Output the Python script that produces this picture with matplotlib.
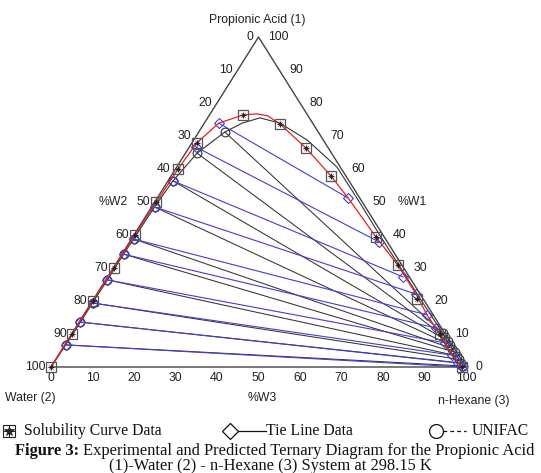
import matplotlib
matplotlib.use("Agg")
import matplotlib.pyplot as plt

# ---------------- data (mass fractions: x1 acid, x3 hexane) ----------------
# Solubility curve data (experimental)
sol_x1 = [0.0, 0.1, 0.2, 0.3, 0.4, 0.5, 0.6, 0.68, 0.764, 0.736, 0.664, 0.579,
          0.394, 0.309, 0.206, 0.100, 0.0]
sol_x3 = [0.0, 0.0, 0.0, 0.001, 0.002, 0.004, 0.006, 0.012, 0.081, 0.184, 0.282,
          0.385, 0.586, 0.681, 0.779, 0.887, 0.99]

# Experimental tie lines: water-rich phase (left) and hexane-rich phase (right)
tie_left_x1 = [0.067, 0.136, 0.194, 0.264, 0.342, 0.388, 0.485, 0.564, 0.667, 0.739]
tie_left_x3 = [0.002, 0.003, 0.003, 0.004, 0.004, 0.005, 0.007, 0.012, 0.015, 0.035]
tie_right_x1 = [0.0, 0.012, 0.036, 0.073, 0.118, 0.158, 0.221, 0.273, 0.379, 0.512]
tie_right_x3 = [0.99, 0.975, 0.948, 0.913, 0.869, 0.827, 0.769, 0.712, 0.601, 0.460]

# UNIFAC predicted tie lines
uni_left_x1 = [0.067, 0.136, 0.194, 0.264, 0.342, 0.388, 0.485, 0.564, 0.648, 0.712]
uni_left_x3 = [0.002, 0.003, 0.003, 0.004, 0.004, 0.005, 0.007, 0.012, 0.028, 0.063]
uni_right_x1 = [0.003, 0.012, 0.023, 0.034, 0.045, 0.056, 0.067, 0.079, 0.091, 0.103]
uni_right_x3 = [0.992, 0.983, 0.972, 0.961, 0.950, 0.939, 0.928, 0.916, 0.904, 0.892]

# Fitted experimental binodal (red curve)
fit_x1 = [0.0, 0.1, 0.2, 0.3, 0.4, 0.5, 0.6, 0.68, 0.739, 0.764, 0.767, 0.761,
          0.736, 0.664, 0.579, 0.512, 0.394, 0.309, 0.221, 0.158, 0.100, 0.036, 0.0]
fit_x3 = [0.0, 0.0, 0.0, 0.001, 0.002, 0.004, 0.006, 0.012, 0.035, 0.081, 0.113, 0.142,
          0.184, 0.282, 0.385, 0.460, 0.586, 0.681, 0.769, 0.827, 0.887, 0.948, 0.99]

# UNIFAC binodal (black curve)
unib_x1 = [0.0, 0.067, 0.136, 0.194, 0.264, 0.342, 0.388, 0.485, 0.564, 0.648, 0.712,
           0.739, 0.755, 0.739, 0.688, 0.606, 0.506, 0.394, 0.203, 0.103, 0.056, 0.003]
unib_x3 = [0.0, 0.002, 0.003, 0.003, 0.004, 0.004, 0.005, 0.007, 0.012, 0.028, 0.063,
           0.091, 0.126, 0.182, 0.273, 0.386, 0.487, 0.598, 0.790, 0.892, 0.939, 0.992]

ticks = [0, 10, 20, 30, 40, 50, 60, 70, 80, 90, 100]


def proj(x1, x3):
    return [b + a / 2.0 for a, b in zip(x1, x3)], list(x1)


W, H = 541, 473
fig = plt.figure(figsize=(W / 100, H / 100), dpi=100)
fig.patch.set_facecolor("white")
ax = fig.add_axes([51 / W, (H - 367) / H, 415 / W, 330 / H])
ax.set_xlim(0, 1)
ax.set_ylim(0, 1)
ax.axis("off")

sans = ["Liberation Sans", "DejaVu Sans"]
serif = ["Liberation Serif", "DejaVu Serif"]
fs = 8.8
tcol = "#222222"

# triangle
ax.plot([0, 1, 0.5, 0], [0, 0, 1, 0], color="#444444", lw=1.0, clip_on=False, zorder=2)

# UNIFAC binodal + tie lines
bx, by = proj(unib_x1, unib_x3)
ax.plot(bx, by, color="#333333", lw=0.8, clip_on=False, zorder=3)
lx, ly = proj(uni_left_x1, uni_left_x3)
rx, ry = proj(uni_right_x1, uni_right_x3)
for i in range(len(lx)):
    ax.plot([lx[i], rx[i]], [ly[i], ry[i]], color="#333333", lw=0.75, clip_on=False, zorder=3)
ax.plot(lx + rx, ly + ry, ls="none", marker="o", ms=6.3, mfc="none", mec="#333333",
        mew=0.8, clip_on=False, zorder=4)

# experimental tie lines
tlx, tly = proj(tie_left_x1, tie_left_x3)
trx, try_ = proj(tie_right_x1, tie_right_x3)
blue = "#3f3fd6"
for i in range(len(tlx)):
    ax.plot([tlx[i], trx[i]], [tly[i], try_[i]], color=blue, lw=0.8, clip_on=False, zorder=5)
ax.plot(tlx + trx, tly + try_, ls="none", marker="D", ms=5.2, mfc="none", mec=blue,
        mew=0.8, clip_on=False, zorder=6)

# fitted binodal (red)
fx, fy = proj(fit_x1, fit_x3)
ax.plot(fx, fy, color="#e8201c", lw=0.9, clip_on=False, zorder=7)

# solubility data
sx, sy = proj(sol_x1, sol_x3)
ax.plot(sx, sy, ls="none", marker="s", ms=6.5, mfc="none", mec="#555555", mew=0.9,
        clip_on=False, zorder=8)
ax.plot(sx, sy, ls="none", marker="+", ms=5, mec="#222222", mew=0.7, clip_on=False, zorder=8)
ax.plot(sx, sy, ls="none", marker="x", ms=3.5, mec="#222222", mew=0.6, clip_on=False, zorder=8)

# tick labels
for t in ticks:
    f = t / 100.0
    # bottom (%W3)
    ax.annotate(str(t), (f, 0), xytext=(0, -11), textcoords="offset pixels",
                ha="center", va="center", fontsize=fs, family=sans, color=tcol)
    # left (%W2): water fraction t -> acid 1 - f
    a = 1 - f
    ax.annotate(str(t), (a / 2, a), xytext=(-5, 0), textcoords="offset pixels",
                ha="right", va="center", fontsize=fs, family=sans, color=tcol)
    # right (%W1): acid fraction t
    ax.annotate(str(t), (1 - f / 2, f), xytext=(10, 0), textcoords="offset pixels",
                ha="left", va="center", fontsize=fs, family=sans, color=tcol)


def ftext(x, y, s, **kw):
    return fig.text(x / W, 1 - y / H, s, **kw)


ftext(257, 20, "Propionic Acid (1)", ha="center", va="center", fontsize=fs, family=sans, color=tcol)
ftext(113, 202, "%W2", ha="center", va="center", fontsize=fs, family=sans, color=tcol)
ftext(412, 202, "%W1", ha="center", va="center", fontsize=fs, family=sans, color=tcol)
ftext(262, 398, "%W3", ha="center", va="center", fontsize=fs, family=sans, color=tcol)
ftext(5, 398, "Water (2)", ha="left", va="center", fontsize=fs, family=sans, color=tcol)
ftext(510, 401, "n-Hexane (3)", ha="right", va="center", fontsize=fs, family=sans, color=tcol)

# legend row
lg = fig.add_axes([0, 0, 1, 1])
lg.set_xlim(0, W)
lg.set_ylim(H, 0)
lg.axis("off")
ly0 = 431
lfs = 11.3
lg.plot([9], [ly0], marker="s", ms=9, mfc="none", mec="#222222", mew=0.8, ls="none")
lg.plot([9], [ly0], marker="*", ms=7, mfc="#222222", mec="#222222", mew=0.5, ls="none")
lg.plot([9], [ly0], marker="+", ms=9, mec="#222222", mew=0.7, ls="none")
lg.text(24, ly0, "Solubility Curve Data", ha="left", va="center", fontsize=lfs,
        family=serif, color="#111111")
lg.plot([230, 266], [ly0, ly0], color="#111111", lw=0.9)
lg.plot([230], [ly0], marker="D", ms=8.5, mfc="white", mec="#111111", mew=0.9)
lg.text(266, ly0, "Tie Line Data", ha="left", va="center", fontsize=lfs,
        family=serif, color="#111111")
lg.plot([443, 466], [ly0, ly0], color="#111111", lw=0.9, ls=(0, (3, 2.5)))
lg.plot([436], [ly0], marker="o", ms=10, mfc="white", mec="#111111", mew=0.9)
lg.text(472, ly0, "UNIFAC", ha="left", va="center", fontsize=lfs,
        family=serif, color="#111111")

cfs = 11.9
t1 = ftext(15, 451, "Figure 3:", ha="left", va="center", fontsize=cfs, family=serif,
           weight="bold", color="#111111")
fig.canvas.draw()
bb = t1.get_window_extent()
x_after = bb.x1 + 4
fig_caption = "Experimental and Predicted Ternary Diagram for the Propionic Acid"
fig.text(x_after / W, 1 - 451 / H, fig_caption, ha="left", va="center", fontsize=cfs,
         family=serif, color="#111111")
ftext(270, 466, "(1)-Water (2) - n-Hexane (3) System at 298.15 K", ha="center", va="center",
      fontsize=cfs, family=serif, color="#111111")

fig.savefig("out.png", dpi=100, facecolor="white")
